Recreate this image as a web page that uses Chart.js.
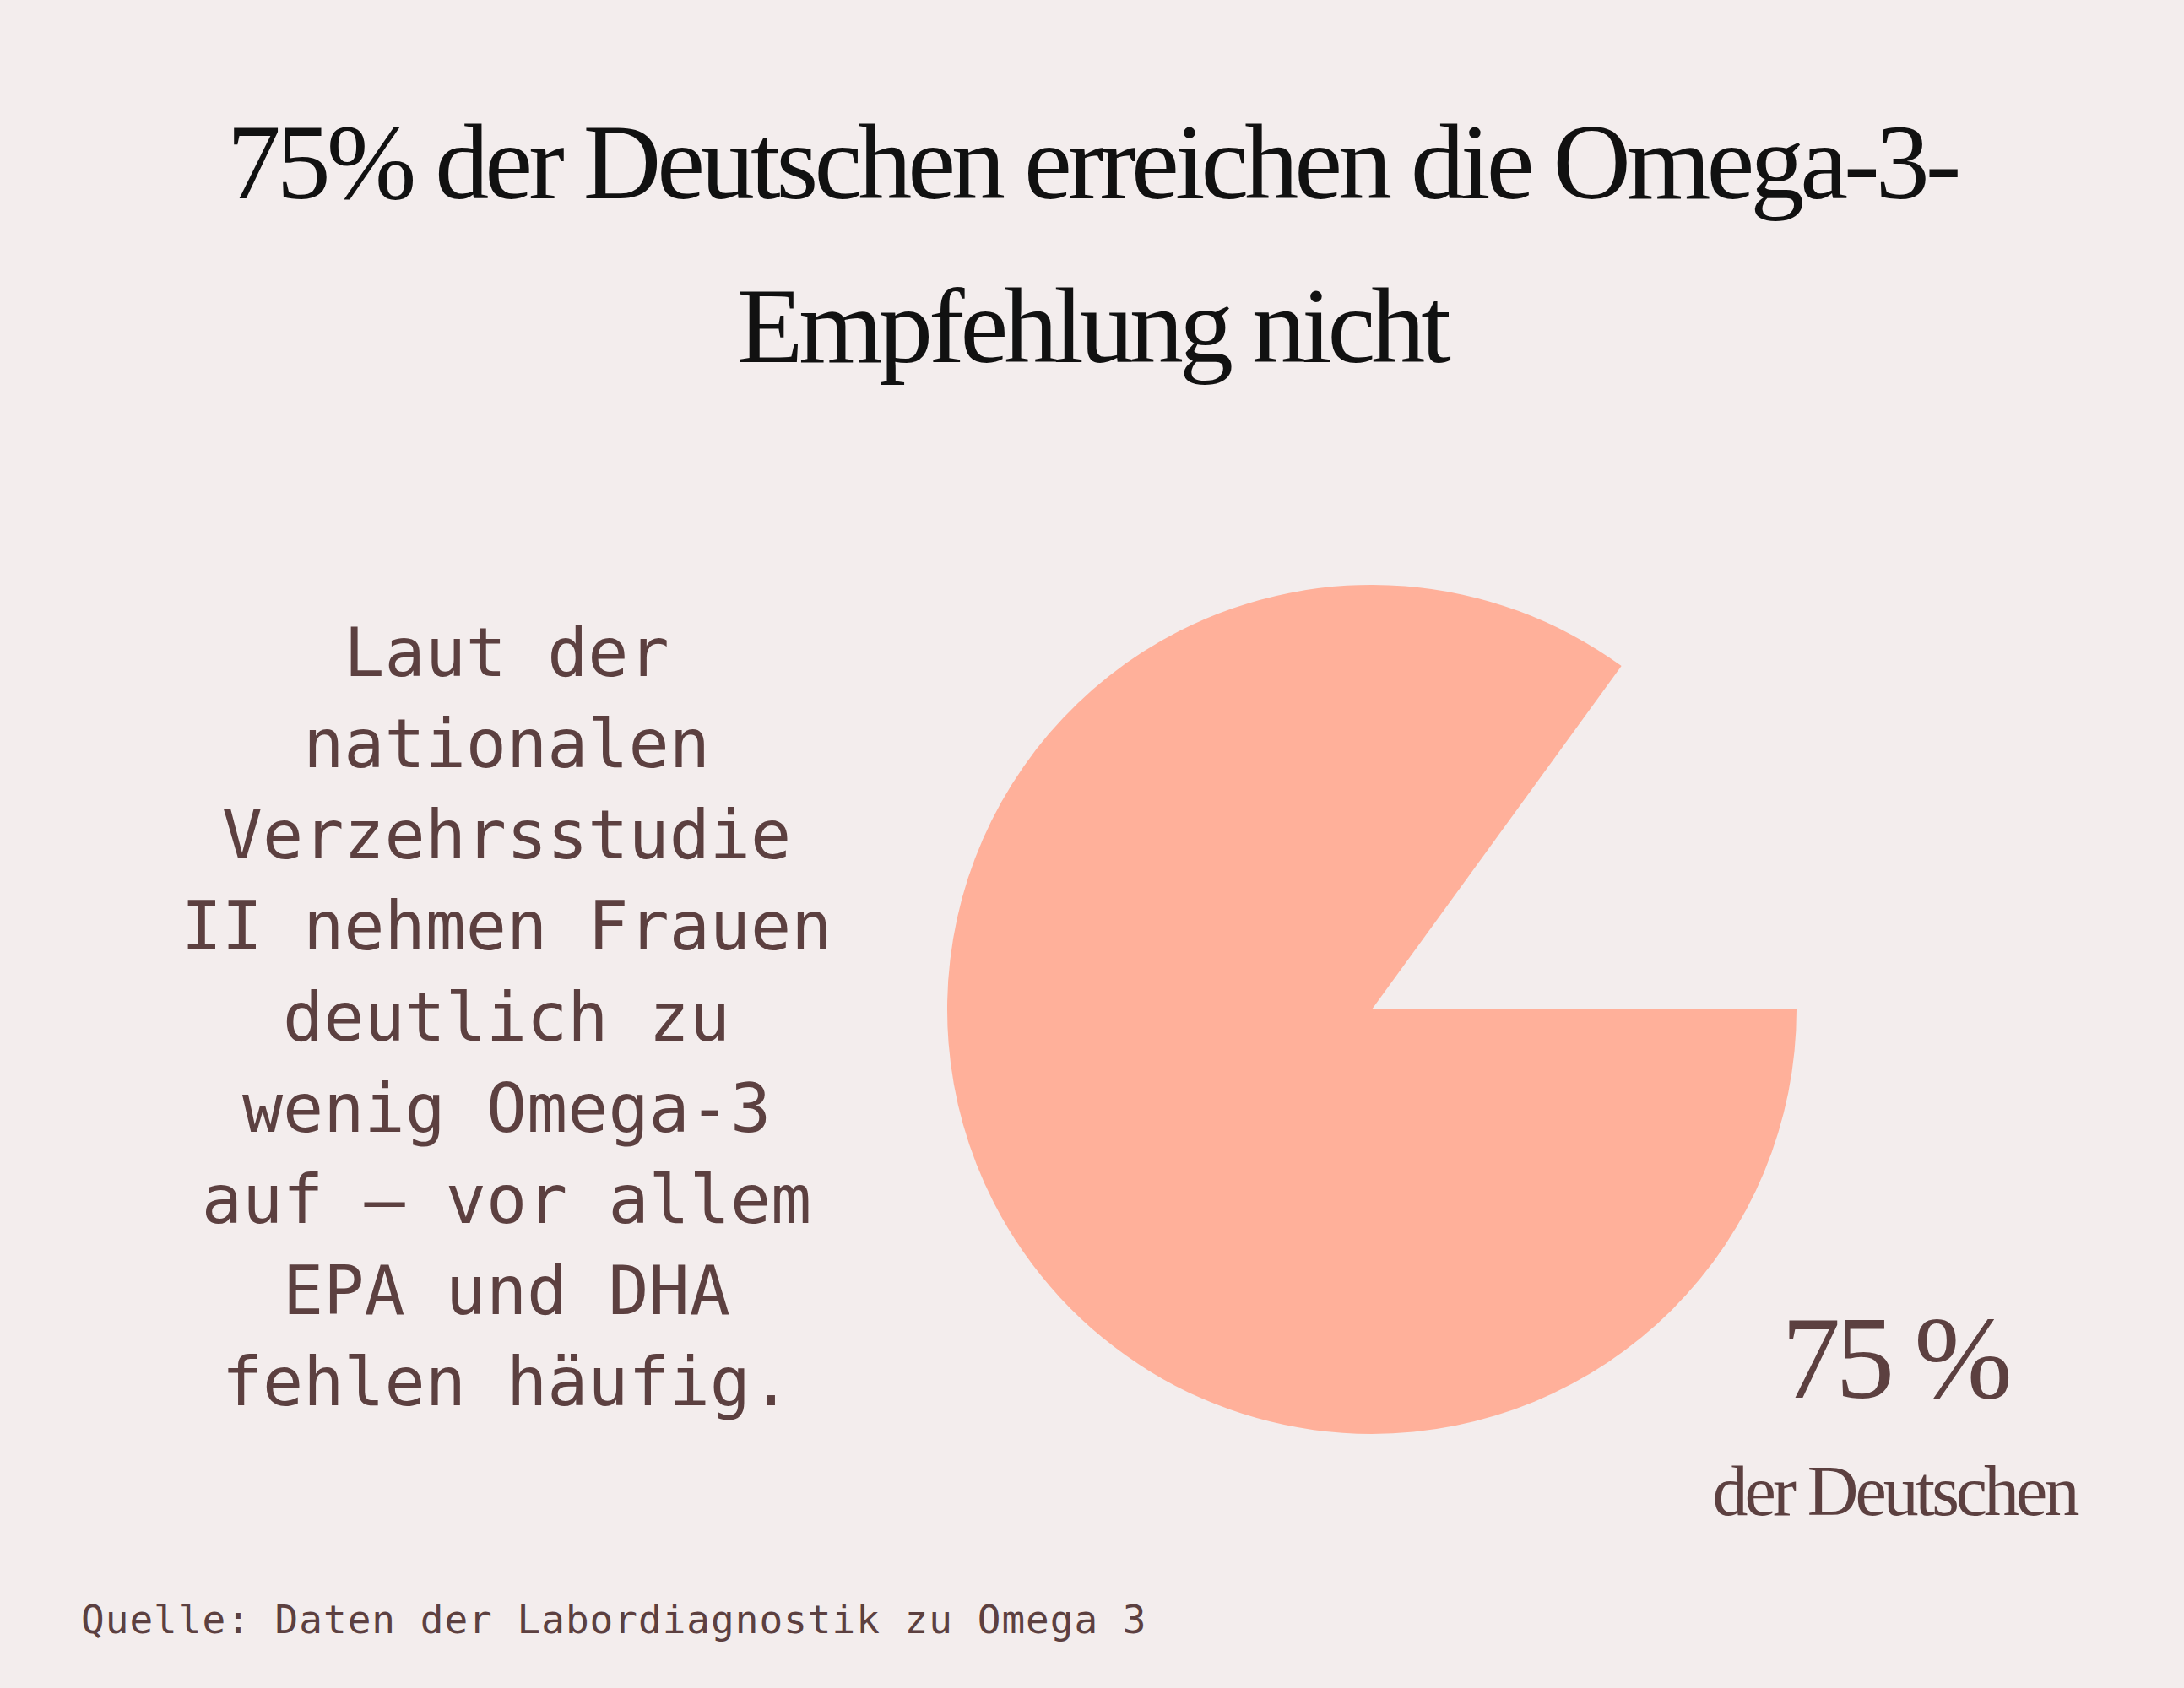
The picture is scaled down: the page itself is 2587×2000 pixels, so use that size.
<!DOCTYPE html>
<html><head><meta charset="utf-8">
<script src="https://cdn.jsdelivr.net/npm/chart.js@4"></script>
<style>
html,body{margin:0;padding:0;background:#F3EDED;width:2587px;height:2000px;overflow:hidden;}
.t{position:absolute;left:0;width:2587px;text-align:center;font-family:"Liberation Serif",serif;color:#111;font-size:128px;letter-spacing:-5px;line-height:1}
.body{position:absolute;left:100px;width:1000px;top:720px;text-align:center;font-family:"DejaVu Sans Mono",monospace;font-size:80px;line-height:108px;color:#5C4040;}
.big{position:absolute;font-family:"Liberation Serif",serif;color:#5C4040;text-align:center;}
.src{position:absolute;left:96px;top:1892px;font-family:"DejaVu Sans Mono",monospace;font-size:46px;color:#5C4040;letter-spacing:1px}
#c{position:absolute;left:1122px;top:693px;}
</style></head><body>
<div class="t" style="top:128px">75% der Deutschen erreichen die Omega-3-</div>
<div class="t" style="top:322px">Empfehlung nicht</div>
<div class="body">Laut der<br>nationalen<br>Verzehrsstudie<br>II nehmen Frauen<br>deutlich zu<br>wenig Omega-3<br>auf – vor allem<br>EPA und DHA<br>fehlen häufig.</div>
<canvas id="c" width="1006" height="1006"></canvas>
<div class="big" style="left:1944px;width:600px;top:1528px;font-size:140px;letter-spacing:-6px">75 %</div>
<div class="big" style="left:1944px;width:600px;top:1718px;font-size:84px;letter-spacing:-4px">der Deutschen</div>
<div class="src">Quelle: Daten der Labordiagnostik zu Omega 3</div>
<script>
const categories = ["Empfehlung nicht erreicht", "Rest"];
const values = [85, 15];
const colors = ["#FFB09A", "rgba(0,0,0,0)"];
new Chart(document.getElementById('c'), {
  type: 'pie',
  data: { labels: categories, datasets: [{ data: values, backgroundColor: colors, borderWidth: 0 }] },
  options: {
    responsive: false, devicePixelRatio: 1, animation: false, rotation: 90,
    plugins: { legend: { display: false }, tooltip: { enabled: false } }
  }
});
</script>
</body></html>
